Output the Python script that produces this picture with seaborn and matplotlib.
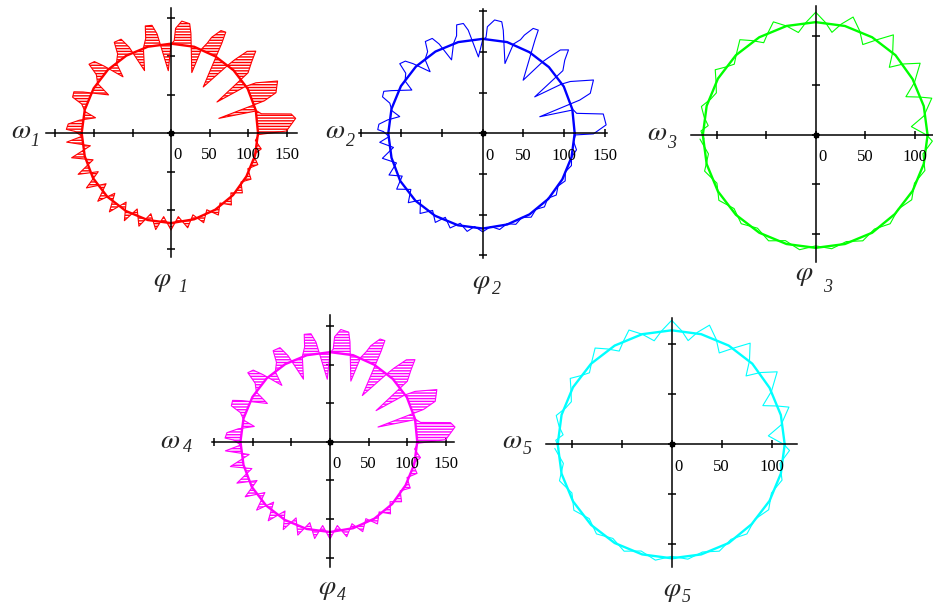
import numpy as np
import pandas as pd
import matplotlib
matplotlib.use("Agg")
import matplotlib.pyplot as plt
import seaborn as sns

W, H = 933, 608

# Trajectories in polar form: angle in degrees (counter-clockwise from the +phi axis)
# and radius in plot units.

# 2nd mass: strong periodic kicks in the upper half-plane
kick_theta = [182, 179, 178, 175, 172, 168.6, 166,
              162, 160, 157, 155, 148.6, 146,
              142, 140, 137, 135, 130.5, 128,
              124, 122, 118, 116, 113, 108,
              105, 103.5, 100, 98, 93.2, 90,
              88, 87.5, 84, 80.3, 78.7, 72.3, 71,
              68, 67, 64.3, 61.7, 60.7, 52.7, 50,
              49, 47, 44.2, 41.7, 38, 35, 32,
              30.6, 25.7, 20.4, 18.9, 16.2, 14.5,
              12, 9.1, 3.9, -0.3, -1,
              -5, -10, -15, -20, -25, -30, -35, -40, -45, -50, -55, -60, -65, -70,
              -75, -80, -85, -90, -95, -99, -104, -109, -114, -118, -123, -128, -133,
              -137, -142, -147, -152, -156, -161, -166, -171, -175, -178]
kick_r = [115, 122, 129, 128, 118, 104, 115,
          120, 131, 132, 124, 102, 115,
          120, 133, 130, 121, 99.5, 115,
          121, 133, 132, 122, 98, 116,
          124, 137, 137, 128, 94, 115,
          118, 131, 140, 139, 129, 90, 116,
          124, 131, 143, 144, 131, 82, 115,
          123, 140, 147, 135, 125, 78, 114,
          125, 151, 141, 126, 73, 115,
          118, 150, 152, 136, 114,
          112, 117, 113, 116, 112, 117, 113, 118, 113, 118, 114, 119, 114,
          119, 115, 120, 115, 121, 115, 122, 114, 123, 113, 124, 113, 125, 112,
          125, 112, 126, 112, 126, 112, 127, 111, 127, 115]

# 1st and 4th masses: the same kicks, larger and with fast chatter
chatter_theta = [182, 179, 178, 175, 172, 168.6, 166,
                 162, 160, 157, 155, 148.6, 146,
                 142, 140, 137, 135, 130.5, 128,
                 124, 122, 118, 116, 113, 108,
                 105, 103.5, 100, 98, 92.5, 90,
                 88, 87.5, 84.5, 80.3, 78.7, 71, 70,
                 68, 67, 64, 61.5, 60.5, 55, 50,
                 49, 47, 44, 41.5, 38, 34, 32,
                 30.6, 26, 21, 19, 17, 14.5,
                 12, 9, 6.7, 1, -1,
                 -5, -10, -15, -20, -25, -30, -35, -40, -45, -50, -55, -60, -65, -70,
                 -75, -80, -85, -90, -95, -99, -104, -109, -114, -118, -123, -128, -133,
                 -137, -142, -147, -152, -156, -161, -166, -171, -175, -178]
chatter_r = [116, 125, 136, 134, 120, 100, 115,
             122, 136, 137, 126, 95, 115,
             123, 139, 136, 123, 96, 115,
             124, 139, 138, 124, 88, 116,
             127, 143, 142, 130, 81, 115,
             120, 136, 146, 144, 132, 83, 116,
             126, 135, 148, 149, 134, 73, 115,
             126, 145, 153, 140, 127, 72, 114,
             128, 154, 146, 128, 65, 115,
             120, 158, 163, 150, 114,
             110, 119, 111, 120, 110, 120, 111, 121, 110, 122, 111, 123, 110,
             124, 110, 125, 109, 126, 109, 127, 108, 128, 108, 129, 107, 130, 107,
             130, 107, 131, 107, 132, 107, 133, 106, 136, 115]

# 3rd and 5th masses: mild forcing
soft_theta = [182, 178, 175, 171, 166, 161, 157, 152, 147, 143, 139, 134, 128.5,
              124, 119.4, 115, 110.5, 105, 99.6, 95, 90, 85, 81, 77, 72.4, 67,
              62.5, 57, 52.2, 47, 42.6, 39, 34.5, 28, 23, 20, 17.6, 10, 5, 0, -3,
              -10, -18, -26, -34, -42, -50, -58, -66, -74, -82, -90, -98, -106,
              -114, -122, -130, -138, -146, -154, -162, -170, -178]
soft_r = [113, 116, 109, 114, 119, 112, 109, 114, 121, 114, 109, 115, 123,
          115, 107, 114, 122, 114, 105, 114, 124, 114, 105, 115, 125, 114,
          103, 115, 128, 114, 101, 114, 128, 113, 99, 112, 123, 111, 97, 112, 118,
          110, 116, 111, 117, 112, 117, 112, 117, 112, 116, 112, 117, 111,
          117, 111, 117, 111, 118, 111, 118, 110, 117]

# Limit cycles
cycle_theta = [0, 15, 30, 45, 60, 75, 90, 105, 120, 135, 150, 165, 180,
               195, 210, 225, 240, 255, 270, 285, 300, 315, 330, 345, 360]
kick_cycle_r = [113, 114, 115, 115, 115, 116, 116, 116, 116, 116, 116, 116, 116,
                116, 117, 117, 117, 117, 117, 116, 115, 114, 113, 113, 113]
soft_cycle_r = [113, 113, 113, 114, 114, 114, 114, 114, 114, 114, 114, 114, 114,
                114, 114, 114, 114, 114, 114, 114, 114, 113, 113, 113, 113]

mass_index = ["1", "2", "3", "4", "5"]
mass_colors = ["#ff0000", "#0000ff", "#00ff00", "#ff00ff", "#00ffff"]
ticks_wide = [-150, -100, -50, 0, 50, 100, 150]
ticks_narrow = [-100, -50, 0, 50, 100]
labels_wide = ["0", "50", "100", "150"]
labels_narrow = ["0", "50", "100"]

series = {
    "kick": (kick_theta, kick_r, kick_cycle_r),
    "chatter": (chatter_theta, chatter_r, kick_cycle_r),
    "soft": (soft_theta, soft_r, soft_cycle_r),
}

# layout: origin (px from top-left), px per unit, limits, ticks, labels, label anchors
panels = [
    dict(o=(171, 133), s=0.77, xl=(-162, 164), yl=(-161, 162), ticks=ticks_wide,
         labs=labels_wide, data="chatter", hatch=True, clip=False,
         w=(21, 131), ws=(35, 142), p=(162, 281), ps=(183, 288)),
    dict(o=(482.7, 133.3), s=0.814, xl=(-152, 153), yl=(-153, 153), ticks=ticks_wide,
         labs=labels_wide, data="kick", hatch=False, clip=False,
         w=(335, 132), ws=(350, 142), p=(481, 283), ps=(496, 289)),
    dict(o=(815.7, 135), s=0.99, xl=(-126, 118), yl=(-128, 130), ticks=ticks_narrow,
         labs=labels_narrow, data="soft", hatch=False, clip=True,
         w=(657, 134), ws=(672, 144), p=(804, 276), ps=(828, 288)),
    dict(o=(330, 441.7), s=0.772, xl=(-153, 160), yl=(-162, 164), ticks=ticks_wide,
         labs=labels_wide, data="chatter", hatch=True, clip=False,
         w=(170, 441), ws=(187, 448), p=(327, 590), ps=(341, 595)),
    dict(o=(671.7, 444.3), s=1.0, xl=(-126, 125), yl=(-123, 126), ticks=ticks_narrow,
         labs=labels_narrow, data="soft", hatch=False, clip=False,
         w=(512, 441), ws=(527, 449), p=(672, 591), ps=(686, 597)),
]

sns.set_style("white")
plt.rcParams["hatch.linewidth"] = 1.0
plt.rcParams["mathtext.fontset"] = "stix"
plt.rcParams["font.family"] = ["Liberation Serif", "DejaVu Serif"]


def to_xy(theta_deg, radius):
    t = np.deg2rad(np.asarray(theta_deg, dtype=float))
    r = np.asarray(radius, dtype=float)
    return r * np.cos(t), r * np.sin(t)


fig = plt.figure(figsize=(W / 100, H / 100), dpi=100)

for k, pn in enumerate(panels):
    ox, oy = pn["o"]
    s = pn["s"]
    x0, x1 = pn["xl"]
    y0, y1 = pn["yl"]
    left = (ox + x0 * s) / W
    bottom = 1 - (oy - y0 * s) / H
    ax = fig.add_axes([left, bottom, (x1 - x0) * s / W, (y1 - y0) * s / H])
    ax.set_xlim(x0, x1)
    ax.set_ylim(y0, y1)
    ax.patch.set_visible(False)

    th, rr, cr = series[pn["data"]]
    color = mass_colors[k]
    tx, ty = to_xy(th, rr)
    cx, cy = to_xy(cycle_theta, cr)

    if pn["hatch"]:
        # band between the trajectory and its limit cycle, filled with dense strokes
        ang = (np.asarray(cycle_theta, float) + 178) % 360 - 178
        order = np.argsort(ang)
        bx, by = to_xy(ang[order], np.asarray(cr, float)[order])
        poly_x = np.concatenate([tx, bx])
        poly_y = np.concatenate([ty, by])
        ax.fill(poly_x, poly_y, facecolor="none", edgecolor=color, linewidth=0,
                hatch="------", zorder=1.5)

    sns.lineplot(x=tx, y=ty, sort=False, estimator=None, ax=ax, color=color,
                 linewidth=0.8, legend=False)
    sns.lineplot(x=cx, y=cy, sort=False, estimator=None, ax=ax, color=color,
                 linewidth=1.7, legend=False)
    for ln in ax.lines:
        ln.set_clip_on(pn["clip"])

    for side in ("top", "right"):
        ax.spines[side].set_visible(False)
    ax.spines["left"].set_position(("data", 0))
    ax.spines["bottom"].set_position(("data", 0))
    for side in ("left", "bottom"):
        ax.spines[side].set_color("black")
        ax.spines[side].set_linewidth(1.1)
        ax.spines[side].set_zorder(3)
    ax.set_xticks(pn["ticks"])
    ax.set_yticks(pn["ticks"])
    ax.tick_params(direction="inout", length=5.5, width=1.1, color="black",
                   labelbottom=False, labelleft=False, bottom=True, left=True)
    ax.set_xlabel("")
    ax.set_ylabel("")
    ax.plot([0], [0], marker="s", markersize=3.5, color="black", zorder=4,
            clip_on=False)

    for lab in pn["labs"]:
        v = float(lab)
        dx = 5 if v == 0 else 0
        ax.annotate(lab, xy=(v, 0), xytext=(dx, -16), textcoords="offset points",
                    ha="center", va="center", fontsize=12, color="black",
                    annotation_clip=False)

    wx, wy = pn["w"]
    fig.text(wx / W, 1 - wy / H, r"$\omega$", ha="center", va="center", fontsize=20)
    wx, wy = pn["ws"]
    fig.text(wx / W, 1 - wy / H, mass_index[k], ha="center", va="center",
             fontsize=13, style="italic")
    px, py = pn["p"]
    fig.text(px / W, 1 - py / H, r"$\varphi$", ha="center", va="center", fontsize=20)
    px, py = pn["ps"]
    fig.text(px / W, 1 - py / H, mass_index[k], ha="center", va="center",
             fontsize=13, style="italic")

fig.savefig("out.png", dpi=100)
